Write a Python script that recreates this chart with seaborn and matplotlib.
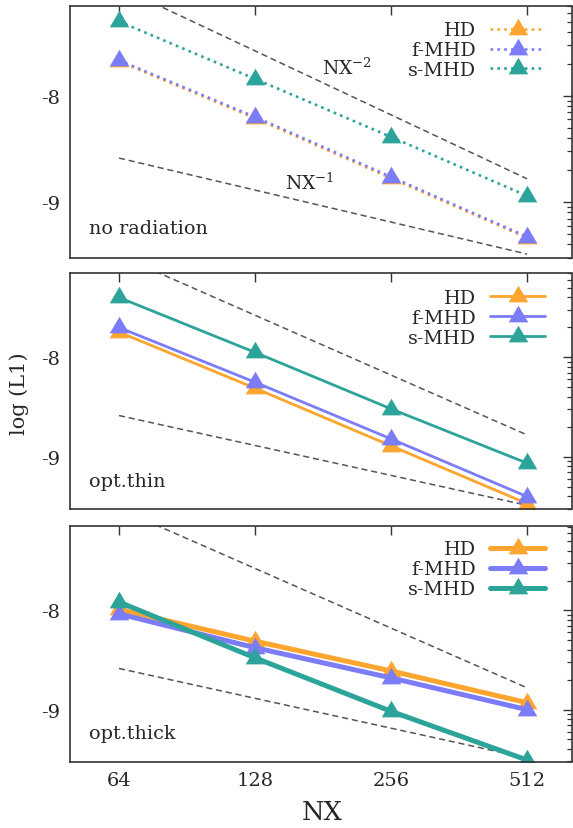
import numpy as np
import pandas as pd
import matplotlib
matplotlib.use("Agg")
import matplotlib.pyplot as plt
import matplotlib.ticker as mticker
import seaborn as sns

# ---- data (log10 of L1) ----
nx = [64, 128, 256, 512]
models = ["HD", "f-MHD", "s-MHD"]

hd_norad = [-7.675, -8.21, -8.775, -9.335]
fmhd_norad = [-7.666, -8.198, -8.762, -9.325]
smhd_norad = [-7.30, -7.84, -8.386, -8.94]

hd_thin = [-7.746, -8.31, -8.89, -9.47]
fmhd_thin = [-7.70, -8.25, -8.82, -9.40]
smhd_thin = [-7.398, -7.95, -8.518, -9.064]

hd_thick = [-7.99, -8.31, -8.61, -8.93]
fmhd_thick = [-8.034, -8.376, -8.68, -9.00]
smhd_thick = [-7.915, -8.478, -9.017, -9.508]

# reference slopes, end points only
ref_nx = [64, 512]
ref_nx2 = [-6.975, -8.78]
ref_nx1 = [-8.585, -9.488]

panel_names = ["no radiation", "opt.thin", "opt.thick"]
panel_data = [
    [hd_norad, fmhd_norad, smhd_norad],
    [hd_thin, fmhd_thin, smhd_thin],
    [hd_thick, fmhd_thick, smhd_thick],
]

colors = {"HD": "#FCA52F", "f-MHD": "#7C7CF7", "s-MHD": "#2CA49A"}

sns.set_style("white")
plt.rcParams["font.family"] = ["DejaVu Serif"]
plt.rcParams["mathtext.fontset"] = "dejavuserif"

W, H = 573, 829
fig = plt.figure(figsize=(W / 100, H / 100), dpi=100)

# axes boxes in pixels: (top, bottom)
left_px, right_px = 70, 571.5
boxes = [(6.7, 259), (274, 510), (527.3, 762.7)]
line_styles = [(0, (1, 1.6)), "-", "-"]
line_widths = [1.9, 2.0, 3.6]

# triangle marker, point sits near the centroid like in gnuplot
tri = [(0, 1.1), (-1, -0.6), (1, -0.6)]

legend_y = [0.938, 0.932, 0.94]

axes = []
for i, (top, bot) in enumerate(boxes):
    ax = fig.add_axes([left_px / W, 1 - bot / H, (right_px - left_px) / W, (bot - top) / H])
    axes.append(ax)

    # dashed reference lines
    ref = pd.DataFrame({"NX": ref_nx + ref_nx,
                        "L1": [10 ** v for v in ref_nx2 + ref_nx1],
                        "ref": ["NX-2"] * 2 + ["NX-1"] * 2})
    sns.lineplot(data=ref, x="NX", y="L1", units="ref", estimator=None,
                 color="#555555", linewidth=1.1, linestyle=(0, (4, 2.5)),
                 ax=ax, legend=False)

    rows = []
    for m, vals in zip(models, panel_data[i]):
        for x, v in zip(nx, vals):
            rows.append({"NX": x, "L1": 10 ** v, "model": m})
    df = pd.DataFrame(rows)
    sns.lineplot(data=df, x="NX", y="L1", hue="model", hue_order=models,
                 palette=colors, errorbar=None, marker=tri, markersize=15.5,
                 markeredgewidth=0, linewidth=line_widths[i],
                 linestyle=line_styles[i], ax=ax, legend=False)

    ax.set_xscale("log", base=2)
    ax.set_yscale("log")
    ax.set_xlim(64 * 2 ** -0.36, 512 * 2 ** 0.327)
    ax.set_ylim(10 ** -9.525, 10 ** -7.152)

    ax.xaxis.set_major_locator(mticker.FixedLocator(nx))
    ax.xaxis.set_minor_locator(mticker.NullLocator())
    ax.yaxis.set_major_locator(mticker.FixedLocator([1e-9, 1e-8]))
    ax.yaxis.set_minor_locator(mticker.LogLocator(base=10, subs=np.arange(2, 10)))
    ax.yaxis.set_major_formatter(mticker.FuncFormatter(lambda v, p: f"{np.log10(v):.0f}"))
    ax.yaxis.set_minor_formatter(mticker.NullFormatter())
    if i == 2:
        ax.xaxis.set_major_formatter(mticker.FuncFormatter(lambda v, p: f"{v:.0f}"))
    else:
        ax.xaxis.set_major_formatter(mticker.NullFormatter())

    ax.tick_params(which="both", direction="in", top=True, right=True,
                   color="#333333", labelsize=14, pad=7)
    ax.tick_params(which="major", length=6.5, width=1.0)
    ax.tick_params(which="minor", length=3.5, width=0.9)
    for s in ax.spines.values():
        s.set_linewidth(1.2)
        s.set_color("#333333")
    ax.set(xlabel=None, ylabel=None)

    ax.text(0.038, 0.12, panel_names[i], transform=ax.transAxes,
            fontsize=13.8, ha="left", va="center")

    handles = ax.get_lines()[2:5]
    ax.legend(handles, models, loc="upper right", bbox_to_anchor=(0.948, legend_y[i]),
              frameon=False, markerfirst=False, handlelength=2.9,
              handletextpad=0.7, labelspacing=0.1, fontsize=13.8,
              borderaxespad=0, borderpad=0)

axes[0].text(180, 10 ** -7.73, "NX$^{-2}$", fontsize=13.5, ha="left", va="center")
axes[0].text(149, 10 ** -8.81, "NX$^{-1}$", fontsize=13.5, ha="left", va="center")

fig.text(19 / W, 1 - 394 / H, "log (L1)", rotation=90, fontsize=15,
         ha="center", va="center")
fig.text(322 / W, 1 - 813 / H, "NX", fontsize=18.5, ha="center", va="center")

fig.savefig("out.png", dpi=100)
